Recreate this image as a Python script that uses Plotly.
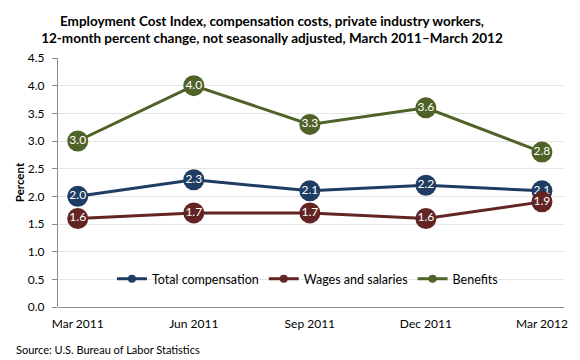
import plotly.graph_objects as go

categories = ["Mar 2011", "Jun 2011", "Sep 2011", "Dec 2011", "Mar 2012"]
total_comp = [2.0, 2.3, 2.1, 2.2, 2.1]
wages = [1.6, 1.7, 1.7, 1.6, 1.9]
benefits = [3.0, 4.0, 3.3, 3.6, 2.8]
y_ticks = [0.0, 0.5, 1.0, 1.5, 2.0, 2.5, 3.0, 3.5, 4.0, 4.5]

series = [
    ("Total compensation", total_comp, "#1F3D63"),
    ("Wages and salaries", wages, "#632523"),
    ("Benefits", benefits, "#4F6228"),
]

FONT = "Lato"
fig = go.Figure()
xs = list(range(len(categories)))
for name, vals, color in series:
    fig.add_trace(go.Scatter(
        x=xs, y=vals, mode="lines+markers+text", name=name,
        line=dict(color=color, width=3),
        marker=dict(size=21, color=color),
        text=[f"{v:.1f}" for v in vals], textposition="middle center",
        textfont=dict(color="white", size=12, family=FONT),
        showlegend=False, cliponaxis=False,
    ))
for name, vals, color in series:
    fig.add_trace(go.Scatter(
        x=[None], y=[None], mode="lines+markers", name=name,
        line=dict(color=color, width=3), marker=dict(size=8, color=color),
    ))

# page body has an 8px margin, so the figure is 8px smaller and shifted
fig.update_layout(
    width=572, height=352,
    margin=dict(l=47, r=12, t=50, b=53),
    paper_bgcolor="white", plot_bgcolor="white",
    font=dict(family=FONT, color="#000000", size=12),
    title=dict(
        text="<b>Employment Cost Index, compensation costs, private industry workers,<br>12-month percent change, not seasonally adjusted, March 2011\u2013March 2012</b>",
        xref="container", x=0.4615, xanchor="center",
        yref="container", y=0.95, yanchor="middle",
        font=dict(size=13.5, family=FONT, color="#000000"),
    ),
    xaxis=dict(
        range=[-0.17, 4.19], tickmode="array", tickvals=xs, ticktext=categories,
        showgrid=False, zeroline=False, showline=False, ticks="",
        ticklabelstandoff=8,
        tickfont=dict(size=12, family=FONT, color="#000000"),
    ),
    yaxis=dict(
        range=[0, 4.5], tickmode="array", tickvals=y_ticks,
        ticktext=[f"{v:.1f}" for v in y_ticks],
        showgrid=True, gridcolor="#E6E6E6", gridwidth=1,
        zeroline=True, zerolinecolor="#8C8C8C", zerolinewidth=1,
        showline=True, linecolor="#8C8C8C", linewidth=1,
        ticks="outside", ticklen=5, tickcolor="#8C8C8C",
        ticklabelstandoff=5,
        tickfont=dict(size=12, family=FONT, color="#000000"),
        title=dict(text="<b>Percent</b>", font=dict(size=11.5, family=FONT), standoff=0),
    ),
    legend=dict(
        orientation="h", x=0.493, xanchor="center", y=0.112, yanchor="middle",
        bgcolor="rgba(0,0,0,0)", font=dict(size=12.5, family=FONT),
        itemwidth=30, tracegroupgap=0,
    ),
    annotations=[dict(
        text="Source: U.S. Bureau of Labor Statistics", xref="paper", yref="paper",
        x=-0.0877, y=-0.169, xanchor="left", yanchor="middle", showarrow=False,
        font=dict(size=11, family=FONT, color="#000000"),
    )],
)

fig.write_html("out.html")
